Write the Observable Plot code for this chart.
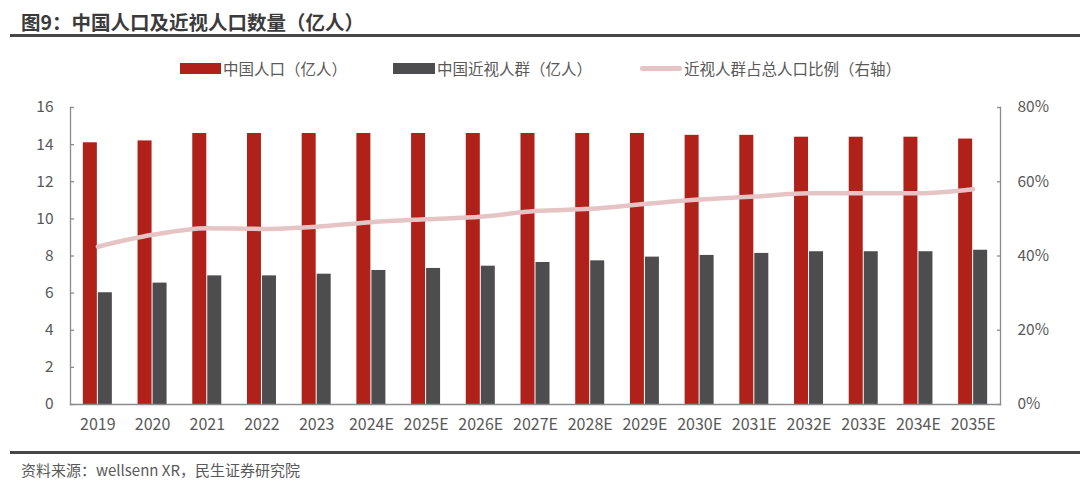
<!DOCTYPE html>
<html>
<head>
<meta charset="utf-8">
<script src="https://cdn.jsdelivr.net/npm/d3@7"></script>
<script src="https://cdn.jsdelivr.net/npm/@observablehq/plot@0.6"></script>
<style>
  html, body { margin: 0; padding: 0; background: #fff; }
  #wrap { position: relative; width: 1080px; height: 487px; overflow: hidden; font-family: "Noto Sans CJK SC", "Noto Sans", sans-serif; }
  #chart { position: absolute; left: 0; top: 0; }
  .title { position: absolute; left: 21px; top: 7px; font-size: 19.5px; font-weight: bold; color: #3b3b3b; white-space: nowrap; }
  .rule { position: absolute; left: 10px; right: 0; height: 3px; background: #474747; }
  .legend { position: absolute; top: 57px; font-size: 15.5px; color: #595959; white-space: nowrap; line-height: 22px; }
  .sw { position: absolute; }
  .caption { position: absolute; left: 21px; top: 459px; font-size: 15px; color: #595959; white-space: nowrap; }
</style>
</head>
<body>
<div id="wrap">
  <div id="chart"></div>
  <div class="title">图9：中国人口及近视人口数量（亿人）</div>
  <div class="rule" style="top:34px"></div>
  <div id="legend"></div>
  <div class="rule" style="top:451px"></div>
  <div class="caption">资料来源：wellsenn XR，民生证券研究院</div>
</div>
<script>
// ---- data ----
const years = ["2019","2020","2021","2022","2023","2024E","2025E","2026E","2027E","2028E","2029E","2030E","2031E","2032E","2033E","2034E","2035E"];
const population = [14.1,14.2,14.6,14.6,14.6,14.6,14.6,14.6,14.6,14.6,14.6,14.5,14.5,14.4,14.4,14.4,14.3];
const myopia = [6.02,6.54,6.93,6.93,7.02,7.22,7.33,7.45,7.65,7.74,7.94,8.03,8.14,8.23,8.23,8.23,8.31];
const ratioPct = [42.5,45.7,47.5,47.3,47.9,49.1,49.9,50.6,52.1,52.7,54.0,55.2,56.0,56.9,56.9,56.9,58.0];
const leftTicks = [0,2,4,6,8,10,12,14,16];
const rightTicksPct = [0,20,40,60,80];
const seriesNames = ["中国人口（亿人）","中国近视人群（亿人）","近视人群占总人口比例（右轴）"];
const colors = ["#B0211A","#4D4D4F","#E6C4C5"];

const rows = years.map((y, i) => ({year: y, pop: population[i], myo: myopia[i], ratio: ratioPct[i]}));
const yMax = 16, rMax = 80;
const toLeft = p => p * yMax / rMax;

const axisColor = "#8c8c8c";
const band = (1080 - 70 - 80) / years.length;
const half = band / 2;

const plot = Plot.plot({
  width: 1080,
  height: 487,
  marginLeft: 70,
  marginRight: 80,
  marginTop: 107,
  marginBottom: 83,
  style: { fontFamily: "'Noto Sans CJK SC', 'Noto Sans', sans-serif", fontSize: "16px", color: "#595959", background: "transparent" },
  x: { type: "band", domain: years, padding: 0, round: false, label: null },
  y: { domain: [0, yMax], label: null },
  marks: [
    Plot.barY(rows, { x: "year", y: "pop", fill: colors[0], insetLeft: half - 14.5, insetRight: half + 0.5 }),
    Plot.barY(rows, { x: "year", y: "myo", fill: colors[1], insetLeft: half + 0.5, insetRight: half - 14.5 }),
    Plot.line(rows, { x: "year", y: d => toLeft(d.ratio), stroke: colors[2], strokeWidth: 4.5, curve: "monotone-x", strokeLinecap: "round" }),
    Plot.frame({ anchor: "left", stroke: axisColor, strokeWidth: 1.3 }),
    Plot.frame({ anchor: "right", stroke: axisColor, strokeWidth: 1.3 }),
    Plot.frame({ anchor: "bottom", stroke: axisColor, strokeWidth: 1.3 }),
    Plot.axisY({ anchor: "left", ticks: leftTicks, tickSize: 4, dx: 4, tickFormat: () => "", label: null, stroke: axisColor, strokeWidth: 1.3 }),
    Plot.axisY({ anchor: "left", ticks: leftTicks, tickSize: 0, tickPadding: 17, label: null, fontSize: 15.5, fill: "#595959" }),
    Plot.axisY({ anchor: "right", ticks: rightTicksPct.map(toLeft), tickSize: 4, dx: -4, tickFormat: () => "", label: null, stroke: axisColor, strokeWidth: 1.3 }),
    Plot.axisY({ anchor: "right", ticks: rightTicksPct.map(toLeft), tickSize: 0, tickPadding: 17, tickFormat: d => Math.round(d * rMax / yMax) + "%", label: null, fontSize: 15.5, fill: "#595959" }),
    Plot.axisX({ anchor: "bottom", tickSize: 0, tickPadding: 14, label: null, fontSize: 16, fill: "#595959" })
  ]
});
document.getElementById("chart").appendChild(plot);

// ---- legend ----
const legend = document.getElementById("legend");
const legendItems = [
  { sx: 180, sw: 41, text: seriesNames[0], tx: 223, kind: "rect", color: colors[0] },
  { sx: 393, sw: 42, text: seriesNames[1], tx: 437, kind: "rect", color: colors[1] },
  { sx: 640, sw: 42, text: seriesNames[2], tx: 684, kind: "line", color: colors[2] }
];
legendItems.forEach(it => {
  const s = document.createElement("div");
  s.className = "sw";
  s.style.left = it.sx + "px";
  s.style.width = it.sw + "px";
  s.style.background = it.color;
  if (it.kind === "rect") { s.style.top = "63px"; s.style.height = "11px"; }
  else { s.style.top = "66px"; s.style.height = "4.5px"; s.style.borderRadius = "2px"; }
  legend.appendChild(s);
  const t = document.createElement("div");
  t.className = "legend";
  t.style.left = it.tx + "px";
  t.textContent = it.text;
  legend.appendChild(t);
});
</script>
</body>
</html>
